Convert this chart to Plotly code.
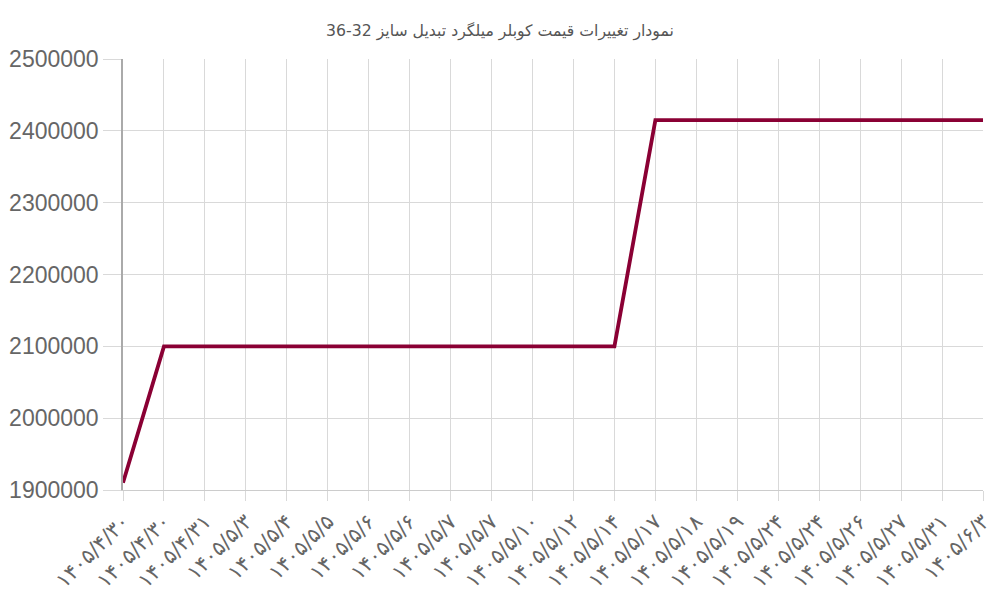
import plotly.graph_objects as go

# dates (Persian calendar) and prices
dates = [
    "۱۴۰۵/۴/۳۰", "۱۴۰۵/۴/۳۰", "۱۴۰۵/۴/۳۱", "۱۴۰۵/۵/۳", "۱۴۰۵/۵/۴",
    "۱۴۰۵/۵/۵", "۱۴۰۵/۵/۶", "۱۴۰۵/۵/۶", "۱۴۰۵/۵/۷", "۱۴۰۵/۵/۷",
    "۱۴۰۵/۵/۱۰", "۱۴۰۵/۵/۱۲", "۱۴۰۵/۵/۱۴", "۱۴۰۵/۵/۱۷", "۱۴۰۵/۵/۱۸",
    "۱۴۰۵/۵/۱۹", "۱۴۰۵/۵/۲۴", "۱۴۰۵/۵/۲۴", "۱۴۰۵/۵/۲۶", "۱۴۰۵/۵/۲۷",
    "۱۴۰۵/۵/۳۱", "۱۴۰۵/۶/۳",
]
prices = [
    1910000, 2100000, 2100000, 2100000, 2100000,
    2100000, 2100000, 2100000, 2100000, 2100000,
    2100000, 2100000, 2100000, 2415000, 2415000,
    2415000, 2415000, 2415000, 2415000, 2415000,
    2415000, 2415000,
]
y_ticks = [1900000, 2000000, 2100000, 2200000, 2300000, 2400000, 2500000]

idx = list(range(len(dates)))

fig = go.Figure()
fig.add_trace(go.Scatter(
    x=idx, y=prices, mode="lines",
    line=dict(color="#8a0034", width=3.8),
    hoverinfo="y",
))

# page body has an 8px margin, so margins are shifted to compensate
fig.update_layout(
    width=1000, height=600,
    margin=dict(l=115, r=25, t=51, b=118),
    plot_bgcolor="white", paper_bgcolor="white",
    showlegend=False,
    title=dict(
        text="نمودار تغییرات قیمت کوبلر میلگرد تبدیل سایز 32-36",
        x=0.492, xanchor="center", y=0.963, yanchor="middle",
        font=dict(family="DejaVu Sans", size=15.7, color="#555555"),
    ),
)

fig.update_xaxes(
    range=[0, len(dates) - 1],
    tickmode="array", tickvals=idx, ticktext=dates,
    tickangle=-45,
    tickfont=dict(family="DejaVu Sans", size=21, color="#666666"),
    showgrid=True, gridcolor="#d9d9d9", gridwidth=1,
    ticks="outside", ticklen=10, tickcolor="#d9d9d9",
    showline=True, linecolor="#cccccc", linewidth=1,
    zeroline=False, automargin=False,
)
fig.update_yaxes(
    range=[1900000, 2500000],
    tickmode="array", tickvals=y_ticks, ticktext=[str(v) for v in y_ticks],
    tickfont=dict(family="Liberation Sans", size=23, color="#666666"),
    showgrid=True, gridcolor="#d9d9d9", gridwidth=1,
    ticks="outside", ticklen=18, tickcolor="#d9d9d9",
    showline=True, linecolor="#aaaaaa", linewidth=1.5,
    zeroline=False, automargin=False,
)

fig.write_html("out.html")
